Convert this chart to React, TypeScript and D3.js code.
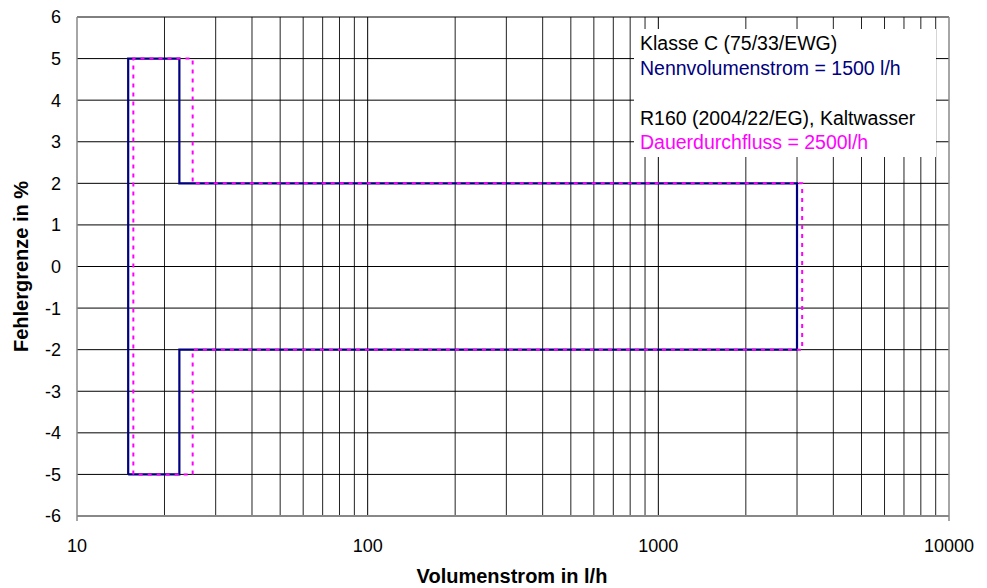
import React from 'react';
import * as d3 from 'd3';

// Klasse C (75/33/EWG), Nennvolumenstrom 1500 l/h
const klasseCFlow = [15, 15, 22.5, 22.5, 3000, 3000, 22.5, 22.5, 15];
const klasseCError = [-5, 5, 5, 2, 2, -2, -2, -5, -5];

// R160 (2004/22/EG), Dauerdurchfluss 2500 l/h
const r160Flow = [15.625, 15.625, 25, 25, 3125, 3125, 25, 25, 15.625];
const r160Error = [-5, 5, 5, 2, 2, -2, -2, -5, -5];

const xTickValues = [10, 100, 1000, 10000];
const yTickValues = [-6, -5, -4, -3, -2, -1, 0, 1, 2, 3, 4, 5, 6];

const legendLines = [
  { text: 'Klasse C (75/33/EWG)', color: '#000' },
  { text: 'Nennvolumenstrom = 1500 l/h', color: '#000080' },
  { text: 'R160 (2004/22/EG), Kaltwasser', color: '#000' },
  { text: 'Dauerdurchfluss = 2500l/h', color: '#ff00ff' },
];

const W = 987;
const H = 588;
const margin = { top: 17, right: 38, bottom: 72, left: 77 };

const App: React.FC = () => {
  const iw = W - margin.left - margin.right;
  const ih = H - margin.top - margin.bottom;

  const x = d3.scaleLog().domain([10, 10000]).range([0, iw]);
  const y = d3.scaleLinear().domain([-6, 6]).range([ih, 0]);

  // minor grid: 2..9 times each decade
  const minorX: number[] = [];
  for (let dec = 10; dec < 10000; dec *= 10) {
    for (let m = 2; m <= 9; m++) minorX.push(dec * m);
  }

  const line = (xs: number[], ys: number[]) =>
    d3.line<number>().x((d, i) => x(xs[i])).y((d, i) => y(ys[i]))(xs) || '';

  const font = 'Arial, "Liberation Sans", sans-serif';

  return (
    <svg width={W} height={H} style={{ position: 'absolute', left: 0, top: 0, background: '#fff' }} fontFamily={font}>
      <g transform={`translate(${margin.left},${margin.top})`}>
        {/* vertical grid */}
        {minorX.map(v => (
          <line key={'mx' + v} x1={x(v)} x2={x(v)} y1={0} y2={ih} stroke="#222" strokeWidth={1} />
        ))}
        {xTickValues.slice(1, -1).map(v => (
          <line key={'Mx' + v} x1={x(v)} x2={x(v)} y1={0} y2={ih} stroke="#000" strokeWidth={1} />
        ))}
        {/* horizontal grid */}
        {yTickValues.map(v => (
          <line key={'gy' + v} x1={0} x2={iw} y1={y(v)} y2={y(v)} stroke="#000" strokeWidth={1} />
        ))}
        {/* frame */}
        <line x1={0} x2={0} y1={0} y2={ih + 5} stroke="#888" strokeWidth={1.5} />
        <line x1={iw} x2={iw} y1={0} y2={ih + 5} stroke="#888" strokeWidth={1.5} />
        <line x1={0} x2={iw} y1={ih} y2={ih} stroke="#888" strokeWidth={2} />

        {/* legend box */}
        <rect x={557} y={12} width={302} height={128} fill="#fff" />
        {legendLines.map((l, i) => (
          <text key={l.text} x={563} y={[33, 58, 108, 132][i]} fontSize={19.5} fill={l.color}>
            {l.text}
          </text>
        ))}

        {/* series */}
        <path d={line(klasseCFlow, klasseCError)} fill="none" stroke="#000080" strokeWidth={2.2} />
        <path d={line(r160Flow, r160Error)} fill="none" stroke="#ff00ff" strokeWidth={2} strokeDasharray="4,5" />

        {/* tick labels */}
        {yTickValues.map(v => (
          <text key={'ty' + v} x={-16} y={y(v)} dy="0.36em" textAnchor="end" fontSize={18} fill="#000">
            {v}
          </text>
        ))}
        {xTickValues.map(v => (
          <text key={'tx' + v} x={x(v)} y={ih + 36} textAnchor="middle" fontSize={18} fill="#000">
            {v}
          </text>
        ))}
      </g>
      <text x={margin.left + iw / 2 - 1} y={583} textAnchor="middle" fontSize={20} fontWeight="bold">
        Volumenstrom in l/h
      </text>
      <text transform={`translate(28,${margin.top + ih / 2}) rotate(-90)`} textAnchor="middle" fontSize={20} fontWeight="bold">
        Fehlergrenze in %
      </text>
    </svg>
  );
};

export default App;
